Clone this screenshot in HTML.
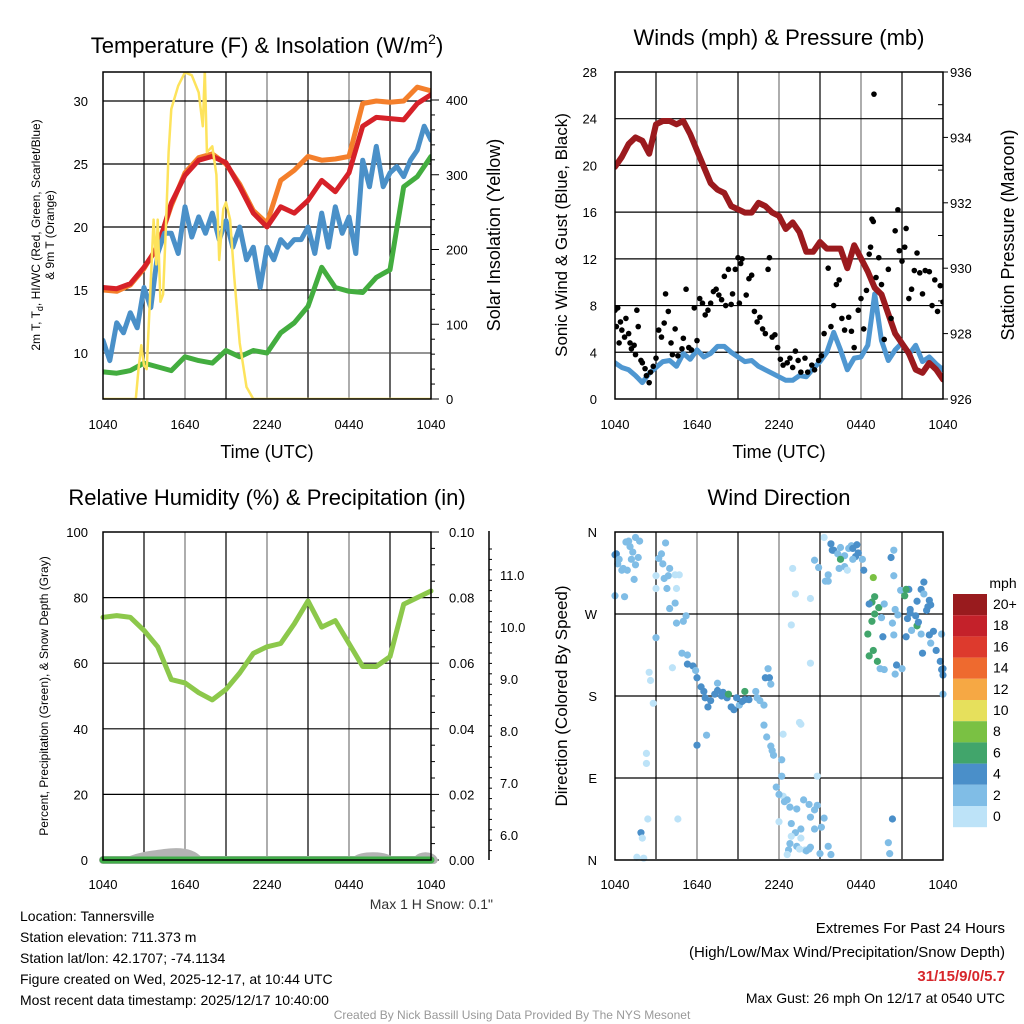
<!DOCTYPE html>
<html><head><meta charset="utf-8"><style>
html,body{margin:0;padding:0;background:#fff;}
svg{display:block;font-family:"Liberation Sans",sans-serif;}
</style></head><body>
<svg id="s" width="1024" height="1024" viewBox="0 0 1024 1024">
<defs>
<clipPath id="c1"><rect x="103" y="72" width="328" height="327"/></clipPath>
<clipPath id="c2"><rect x="615" y="72" width="328" height="327"/></clipPath>
<clipPath id="c3"><rect x="97" y="532" width="340" height="336"/></clipPath>
<clipPath id="c4"><rect x="608" y="525" width="342" height="342"/></clipPath>
</defs>
<g id="grid"></g>
<g id="marks"></g>
<g id="frames" fill="none" stroke="#000" stroke-width="1.5">
<rect x="103" y="72" width="328" height="327"/>
<rect x="615" y="72" width="328" height="327"/>
<rect x="103" y="532" width="328" height="328"/>
<rect x="615" y="532" width="328" height="328"/>
<line x1="489" y1="531" x2="489" y2="860"/>
</g>
<g id="ticks" font-size="13" fill="#000"></g>
<g font-size="22" text-anchor="middle" fill="#000">
<text x="267" y="53">Temperature (F) &amp; Insolation (W/m<tspan font-size="14" dy="-9">2</tspan><tspan dy="9">)</tspan></text>
<text x="779" y="45">Winds (mph) &amp; Pressure (mb)</text>
<text x="267" y="505">Relative Humidity (%) &amp; Precipitation (in)</text>
<text x="779" y="505">Wind Direction</text>
</g>
<g font-size="18" text-anchor="middle" fill="#000">
<text x="267" y="458">Time (UTC)</text>
<text x="779" y="458">Time (UTC)</text>
<text transform="translate(500,235) rotate(-90)">Solar Insolation (Yellow)</text>
<text transform="translate(567,235) rotate(-90)" font-size="17">Sonic Wind &amp; Gust (Blue, Black)</text>
<text transform="translate(1014,235) rotate(-90)">Station Pressure (Maroon)</text>
<text transform="translate(567,696) rotate(-90)" font-size="17">Direction (Colored By Speed)</text>
</g>
<g font-size="12" text-anchor="middle" fill="#000">
<text transform="translate(40,235) rotate(-90)">2m T, T<tspan font-size="9" dy="3">d</tspan><tspan dy="-3">, HI/WC (Red, Green, Scarlet/Blue)</tspan></text>
<text transform="translate(54,235) rotate(-90)">&amp; 9m T (Orange)</text>
<text transform="translate(48,696) rotate(-90)">Percent, Precipitation (Green), &amp; Snow Depth (Gray)</text>
</g>
<text x="493" y="909" font-size="14" text-anchor="end" fill="#333">Max 1 H Snow: 0.1"</text>
<g font-size="14" fill="#000">
<text x="20" y="921">Location: Tannersville</text>
<text x="20" y="942">Station elevation: 711.373 m</text>
<text x="20" y="963">Station lat/lon: 42.1707; -74.1134</text>
<text x="20" y="984">Figure created on Wed, 2025-12-17, at 10:44 UTC</text>
<text x="20" y="1005">Most recent data timestamp: 2025/12/17 10:40:00</text>
</g>
<g font-size="15" fill="#000" text-anchor="end">
<text x="1005" y="933">Extremes For Past 24 Hours</text>
<text x="1005" y="957">(High/Low/Max Wind/Precipitation/Snow Depth)</text>
<text x="1005" y="981" fill="#d7262b" font-weight="bold">31/15/9/0/5.7</text>
<text x="1005" y="1003" font-size="14">Max Gust: 26 mph On 12/17 at 0540 UTC</text>
</g>
<text x="512" y="1019" font-size="12" fill="#999" text-anchor="middle">Created By Nick Bassill Using Data Provided By The NYS Mesonet</text>
<g id="cbar"></g>
<text x="1003" y="588" font-size="14" text-anchor="middle">mph</text>
</svg>
<script>
const hourly = [0,1,2,3,4,5,6,7,8,9,10,11,12,13,14,15,16,17,18,19,20,21,22,23,24];
const halfHourly = [0,0.5,1,1.5,2,2.5,3,3.5,4,4.5,5,5.5,6,6.5,7,7.5,8,8.5,9,9.5,10,10.5,11,11.5,12,12.5,13,13.5,14,14.5,15,15.5,16,16.5,17,17.5,18,18.5,19,19.5,20,20.5,21,21.5,22,22.5,23,23.5,24];
const redTemp = [15.2,15.1,15.5,16.8,18.4,21.9,24.1,25.3,25.6,25.1,23.2,21.1,20.0,21.6,21.1,22.1,23.7,22.8,24.3,28.0,28.7,28.6,28.5,29.8,30.5];
const orangeTemp = [15.0,14.9,15.4,16.7,18.5,21.7,24.3,25.5,25.8,25.0,23.4,21.3,20.3,23.7,24.5,25.6,25.3,25.4,25.6,29.8,30.0,29.9,30.0,31.1,30.8];
const greenDew = [8.5,8.4,8.6,9.2,8.9,8.6,9.7,9.4,9.2,10.2,9.7,10.2,10.0,11.6,12.4,13.7,16.8,15.2,14.9,14.8,16.0,16.6,23.2,24.0,25.6];
const blueChill = [11,9.4,12.4,11.6,13.2,12,15.2,13.6,17.9,19.5,19.5,17.9,21.6,19.2,20.8,19.5,21.1,19,20.5,18.4,20,17.4,18.4,15.2,18.4,17.4,19,18.4,19,19,20,17.9,21.1,18.4,21.6,19.5,20.8,17.9,25.3,23.2,26.4,23.2,24.3,24.8,24,25.3,26.1,28,26.9];
const solarHours = [0,2.4,2.6,2.8,3.0,3.2,3.4,3.7,3.9,4.0,4.2,4.4,4.6,4.8,5.0,5.5,6.0,6.5,7.0,7.3,7.45,7.6,8.0,8.3,8.5,8.8,9.0,9.3,9.6,10.0,10.5,11.0,24];
const solarVals = [0,0,40,72,45,40,120,240,180,240,130,140,230,330,388,419,437,433,410,365,440,330,338,300,186,254,263,240,164,75,16,0,0];
const sonicWind = [3.1,2.7,2.5,2.0,1.4,2.2,2.7,3.2,3.3,2.8,3.9,3.4,4.2,3.6,3.9,4.5,4.5,4.0,3.6,3.2,3.3,2.8,2.5,2.2,1.9,1.6,1.6,2.0,1.9,2.6,3.2,4.0,5.7,4.2,2.5,3.5,3.6,4.6,9.0,5.0,3.3,4.2,4.8,3.8,4.6,3.2,3.6,3.0,2.5];
const pressure = [933.1,933.4,933.8,934.0,933.9,933.5,934.4,934.5,934.5,934.4,934.5,934.1,933.6,933.1,932.6,932.4,932.3,931.9,931.8,931.7,931.7,932.0,931.9,931.7,931.6,931.2,931.4,931.1,930.5,930.5,930.8,930.6,930.6,930.6,930.0,930.7,930.3,929.9,929.4,929.2,928.6,928.0,927.7,927.4,926.9,926.8,927.1,926.9,926.6];
const gustHours = [0,0.1,0.2,0.3,0.4,0.5,0.7,0.8,1,1.1,1.2,1.4,1.5,1.6,1.7,1.9,2,2.2,2.3,2.5,2.6,2.8,3,3.2,3.4,3.6,3.7,3.9,4.1,4.2,4.4,4.6,4.9,5,5.2,5.4,5.6,5.8,6,6.2,6.4,6.6,6.8,7,7.2,7.4,7.6,7.8,8,8.1,8.3,8.5,8.6,8.8,9,9.1,9.2,9.3,9.6,9.8,10,10.2,10.4,10.6,10.8,11,11.2,11.3,11.5,11.7,11.9,12.1,12.3,12.6,12.8,13,13.2,13.4,13.6,13.9,14.1,14.4,14.6,14.9,15.1,15.3,15.6,15.8,16,16.2,16.4,16.6,16.8,17.1,17.3,17.5,17.8,18,18.2,18.4,18.6,18.7,18.8,18.9,18.95,19.1,19.3,19.5,19.7,20,20.2,20.5,20.7,20.8,21,21.2,21.3,21.5,21.7,21.9,22.1,22.3,22.5,22.7,23,23.2,23.4,23.6,23.8,24];
const gustVals = [7.6,6.2,7.8,4.8,6.6,5.9,5.3,6.9,5.6,4.8,4.3,4.6,3.8,7.6,6.2,3.3,3.1,2.6,2.0,1.4,2.3,2.8,3.5,5.9,5.3,6.5,9.0,7.5,4.8,3.8,6.0,3.7,4.3,5.2,9.4,4.4,4.2,7.8,5.0,8.6,8.2,7.2,7.6,8.2,9.2,9.4,8.9,8.5,10.5,8.0,11.1,8.1,9.0,11.1,12.1,8.2,11.6,12.0,8.9,10.3,10.6,7.5,6.6,7.0,6.0,5.6,11.1,12.1,5.3,5.5,4.4,3.4,2.9,3.1,3.5,2.7,4.1,3.3,2.3,3.5,2.3,2.9,2.5,3.3,3.7,5.6,11.2,6.2,8.0,9.8,10.2,6.9,5.9,7.0,5.8,4.4,7.6,8.6,6.0,9.3,12.4,13.0,15.4,15.2,26.1,10.4,12.1,9.8,5.1,11.1,6.9,14.4,16.2,12.7,11.8,13.0,14.6,8.6,9.4,11.0,12.5,10.8,9.0,11.0,10.9,8.0,10.2,7.5,9.7,8.3];
const rhVals = [74,74.5,74,70,65,55,54,51,48.8,52,57,63,65,66,72,79,71,73,66,59,59,62,78,80,82];
const dirHours = [
0,0,0.1,0.2,0.3,0.5,0.6,0.8,1.0,1.1,1.3,1.2,1.5,1.4,0.7,0.9,1.7,1.8,1.5,
3.2,3.4,3.7,3.5,3.9,3.6,4.0,3.8,4.4,4.7,3.0,3.0,4.5,4.4,4.0,4.5,5.0,5.2,3.0,4.2,2.5,2.6,2.8,2.3,2.3,2.4,4.6,1.9,2.0,1.6,2.1,
4.9,5.3,5.3,5.7,5.9,6.0,6.3,6.5,6.6,7.0,6.8,7.3,7.5,7.5,7.8,7.9,8.2,8.3,8.5,8.7,8.9,9.1,9.5,9.5,9.3,9.8,10.4,10.3,10.6,10.9,11.0,11.3,11.4,11.2,10.9,11.1,11.4,11.6,11.5,12.2,6.0,6.7,12.2,
11.8,12.3,12.0,12.4,12.6,12.8,12.0,12.9,13.3,13.8,14.2,14.8,14.8,14.6,14.3,15.3,15.1,14.6,13.6,13.6,13.2,12.7,12.8,12.9,13.3,12.6,13.5,13.9,14.0,15.0,14.2,14.3,
13.0,13.2,12.9,14.3,14.3,13.5,13.6,12.3,
15.3,14.6,14.9,15.4,15.6,15.6,15.8,15.9,16.0,16.5,16.3,16.8,17.1,17.3,17.7,17.8,17.6,18.1,16.5,17.4,16.4,16.8,17.0,18.2,17.4,
18.9,19.0,18.8,18.6,19.3,19.7,19.0,18.8,19.5,18.5,19.6,18.6,18.9,19.2,19.4,19.7,20.5,21.0,20.6,20.4,20.5,20.9,21.2,21.5,21.3,21.6,21.4,21.7,21.3,22.1,22.2,22.0,21.6,22.1,22.4,22.6,22.6,22.8,22.9,23.0,23.1,23.3,23.0,23.5,23.8,23.9,24.0,24.0,23.1,22.5,22.4,20.2,20.4,20.4,20.7,20.3,
20.3,20.0,20.1,15.6,15.8,24.0,23.9];
const dirDeg = [
290,335,336,325,330,318,320,349,350,344,338,330,324,308,289,318,332,350,354,
331,336,348,325,312,309,320,298,313,313,312,298,298,282,276,260,262,268,244,211,206,197,172,117,106,45,45,30,24,3,2,
227,225,215,213,208,200,190,185,178,175,168,182,194,186,180,184,178,182,168,165,178,170,176,185,174,176,178,185,175,170,200,200,193,210,148,135,125,115,120,110,126,137,92,
80,70,72,64,66,58,42,40,56,66,61,92,60,55,47,46,36,34,24,34,30,11,18,26,15,6,12,11,10,7,12,14,
320,292,258,287,216,151,149,138,
354,329,321,306,313,306,347,340,340,343,336,334,342,345,346,337,333,330,330,330,320,322,318,318,342,
310,289,283,281,277,281,270,262,266,248,245,224,230,218,210,209,204,210,214,247,275,296,290,297,297,275,265,252,245,257,261,268,271,284,297,305,292,274,278,285,280,251,247,230,218,209,203,182,238,227,248,332,312,340,269,260,
45,19,7,15,6,210,248];
const dirSpeed = [
3,4,4,3,3,3,3,3,3,3,3,3,3,3,3,3,3,3,3,
3,3,3,3,3,3,3,3,1,1,1,1,1,3,3,3,3,3,3,1,1,1,1,1,1,1,1,4,1,1,1,
3,3,4,4,3,4,4,4,4,4,4,4,3,4,4,4,4,6,4,4,4,3,4,6,4,4,3,3,3,3,4,4,3,3,3,3,3,3,3,3,4,3,3,
3,1,3,3,3,3,1,3,3,3,3,1,3,3,3,3,3,3,1,3,3,3,3,1,3,1,1,1,3,3,3,3,
1,1,1,1,1,1,1,1,
1,3,3,3,3,3,4,4,4,3,3,3,3,3,4,4,4,3,6,3,3,3,1,4,4,
8,6,6,4,6,3,6,6,3,6,4,6,6,6,3,3,3,3,4,3,3,3,6,4,6,4,4,3,4,6,4,4,4,4,4,4,3,4,4,4,4,4,4,4,4,4,4,3,3,4,3,4,3,3,3,3,
4,3,3,3,3,4,3];
const cbarLabels = ["20+","18","16","14","12","10","8","6","4","2","0"];
const cbarColors = ["#991b1e","#c4212a","#dd3a2d","#ee6a2f","#f6a844","#e6e05c","#7ac143","#41a56b","#4a8fc9","#80bde6","#bde3f8"];

const NS="http://www.w3.org/2000/svg";
const G=document.getElementById('grid'),M=document.getElementById('marks'),T=document.getElementById('ticks'),CB=document.getElementById('cbar');
function el(tag,attrs,parent){const e=document.createElementNS(NS,tag);for(const k in attrs)e.setAttribute(k,attrs[k]);parent.appendChild(e);return e;}
function txt(x,y,s,anchor,parent){const e=el('text',{x:x,y:y,'text-anchor':anchor},parent);e.textContent=s;return e;}

const px1=h=>103+h*328/24, px2=h=>615+h*328/24;
const yTemp=v=>353-(v-10)*12.6, ySolar=v=>399-v*0.7475;
const yWind=v=>399-v*11.68, yPres=p=>399-(p-926)*32.7;
const yRH=v=>860-v*3.28, yPrec=v=>860-v*3280, ySnow=v=>835-(v-6)*52;
const yDir=d=>860-d*328/360;

[103,615].forEach(x0=>{[532,72].forEach(y0=>{
  for(let i=1;i<8;i++){const x=x0+i*41;const g=el('line',{x1:x,y1:y0,x2:x,y2:y0+327,stroke:(i%2==0)?'#777':'#000','stroke-width':1.2},G);
  
  }
});});
function hgrid(x0,ys,col){ys.forEach(y=>{const g=el('line',{x1:x0,y1:y,x2:x0+328,y2:y,stroke:col,'stroke-width':1.2},G);
  
  });}
hgrid(103,[15,20,25,30].map(yTemp),'#000');hgrid(103,[10].map(yTemp),'#555');
hgrid(615,[4,8,12,16,20,24].map(yWind),'#000');
hgrid(103,[20,40,60,80].map(yRH),'#000');
hgrid(615,[90,180,270].map(yDir),'#000');

const xLabels=["1040","1640","2240","0440","1040"];
xLabels.forEach((s,i)=>{[[px1,429],[px2,429],[px1,889],[px2,889]].forEach(([f,y])=>{const t=txt(f(i*6),y,s,'middle',T);
  
  });});
const tempTicks=[10,15,20,25,30];
tempTicks.forEach(v=>{const t=txt(88,yTemp(v)+5,String(v),'end',T);});
const solarTicks=[0,100,200,300,400];
solarTicks.forEach(v=>{const t=txt(446,ySolar(v)+5,String(v),'start',T);});
const windTicks=[0,4,8,12,16,20,24,28];
windTicks.forEach(v=>{const t=txt(597,yWind(v)+5,String(v),'end',T);});
const presTicks=[926,928,930,932,934,936];
presTicks.forEach(v=>{const t=txt(950,yPres(v)+5,String(v),'start',T);});
const rhTicks=[0,20,40,60,80,100];
rhTicks.forEach(v=>{const t=txt(88,yRH(v)+5,String(v),'end',T);});
const precTicks=["0.00","0.02","0.04","0.06","0.08","0.10"];
precTicks.forEach(s=>{const t=txt(449,yPrec(+s)+5,s,'start',T);});
const snowTicks=["6.0","7.0","8.0","9.0","10.0","11.0"];
snowTicks.forEach(s=>{const t=txt(500,ySnow(+s)+5,s,'start',T);});
const dirTicks=["N","E","S","W","N"];
dirTicks.forEach((s,i)=>{const t=txt(597,yDir(i*90)+5,s,'end',T);});
for(let v=0;v<=400;v+=20){const l=el('line',{x1:431,y1:ySolar(v),x2:v%100?435:439,y2:ySolar(v),stroke:'#000'},G);}
for(let v=926;v<=936;v+=1){const l=el('line',{x1:943,y1:yPres(v),x2:v%2?938:948,y2:yPres(v),stroke:'#000'},G);}
for(let v=0;v<=0.1001;v+=0.005){const y=yPrec(v);const l=el('line',{x1:431,y1:y,x2:(Math.round(v*1000)%20)?435:439,y2:y,stroke:'#000'},G);}
for(let v=5.5;v<=11.6;v+=0.2){const y=ySnow(v);if(y<531||y>860)continue;const l=el('line',{x1:489,y1:y,x2:(Math.abs(v-Math.round(v))<0.05)?495:492,y2:y,stroke:'#000'},G);}

function line(xs,ys,fx,fy,color,w,clip,name){const d=xs.map((h,i)=>(i?'L':'M')+fx(h).toFixed(1)+','+fy(ys[i]).toFixed(1)).join('');
  const p=el('path',{d:d,fill:'none',stroke:color,'stroke-width':w,'stroke-linejoin':'round','stroke-linecap':'round','clip-path':'url(#'+clip+')'},M);
  
  return p;}

line(hourly,orangeTemp,px1,yTemp,'#f47f2b',5,'c1','orange-9m-temp-line');
line(hourly,redTemp,px1,yTemp,'#d62128',5,'c1','red-2m-temp-line');
line(hourly,greenDew,px1,yTemp,'#43ad3f',5,'c1','green-dewpoint-line');
line(halfHourly,blueChill,px1,yTemp,'#4a90c8',5,'c1','blue-windchill-line');
line(solarHours,solarVals,px1,ySolar,'#fde35c',2.5,'c1','yellow-insolation-line');
line(halfHourly,sonicWind,px2,yWind,'#4f97d1',5,'c2','sonic-wind-line');
line(halfHourly,pressure,px2,yPres,'#9b1a1e',6,'c2','pressure-line');
gustHours.forEach((h,i)=>{const c=el('circle',{cx:px2(h),cy:yWind(gustVals[i]),r:2.8,fill:'#000','clip-path':'url(#c2)'},M);
  
  });
const snowPath=el('path',{d:'M'+px1(0)+',860 L'+px1(2)+',860 C'+px1(3)+',855 '+px1(3.5)+',855 '+px1(4.5)+',853 C'+px1(5.5)+',851 '+px1(6.5)+',852 '+px1(7)+',860 L'+px1(18.5)+',860 C'+px1(19)+',855 '+px1(20.5)+',855 '+px1(21)+',860 L'+px1(23)+',860 C'+px1(23.2)+',855 '+px1(24)+',855 '+px1(24.2)+',860 Z',fill:'#b3b3b3',stroke:'#b3b3b3','stroke-width':8,'stroke-linejoin':'round'},M);


const precip=el('line',{x1:px1(0),y1:860,x2:px1(24),y2:860,stroke:'#41ad49','stroke-width':7,'stroke-linecap':'round'},M);


line(hourly,rhVals,px1,yRH,'#8cc84b',5,'c3','rh-line');
dirHours.forEach((h,i)=>{const s=dirSpeed[i]===undefined?3:dirSpeed[i];const idx=10-Math.min(10,Math.floor(s/2));
  const c=el('circle',{cx:px2(h),cy:yDir(dirDeg[i]),r:3.6,fill:cbarColors[idx],'clip-path':'url(#c4)'},M);
  
  });
cbarLabels.forEach((s,i)=>{const y=594+i*21.2;
  const r=el('rect',{x:953,y:y,width:34,height:21.2,fill:cbarColors[i]},CB);
  
  
  const t=txt(993,y+15,s,'start',CB);t.setAttribute('font-size','14');
  
  });
</script>
</body></html>
